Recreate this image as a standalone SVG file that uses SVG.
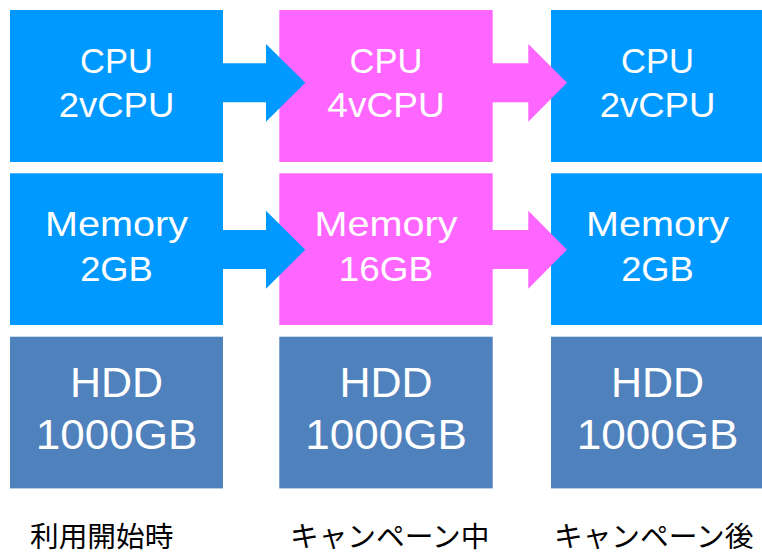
<svg xmlns="http://www.w3.org/2000/svg" width="762" height="554" viewBox="0 0 762 554">
<style>
.blue{fill:#0099FF}
.pink{fill:#FF66FF}
.hdd{fill:#4F81BD}
.t{font-family:"Liberation Sans",Arial,sans-serif;font-size:34.5px;fill:#FFFFFF;text-anchor:middle}
.th{font-family:"Liberation Sans",Arial,sans-serif;font-size:43px;fill:#FFFFFF;text-anchor:middle}
.lab{font-family:"Noto Sans CJK JP",sans-serif;font-size:28.7px;fill:#000000}
</style>
<rect width="762" height="554" fill="#FFFFFF"/>
<g id="cpu1"><rect class="blue" x="10" y="10" width="213" height="152"/><text class="t" x="116.5" y="72.7">CPU</text><text class="t" x="116.5" y="117.3" textLength="115.7" lengthAdjust="spacingAndGlyphs">2vCPU</text></g>
<g id="cpu2"><rect class="pink" x="279.3" y="10" width="213.4" height="152"/><text class="t" x="386" y="72.7">CPU</text><text class="t" x="386" y="117.3" textLength="117.4" lengthAdjust="spacingAndGlyphs">4vCPU</text></g>
<g id="cpu3"><rect class="blue" x="551" y="10" width="213" height="152"/><text class="t" x="657.5" y="72.7">CPU</text><text class="t" x="657.5" y="117.3" textLength="115.7" lengthAdjust="spacingAndGlyphs">2vCPU</text></g>
<g id="mem1"><rect class="blue" x="10" y="173.3" width="213" height="151.7"/><text class="t" x="116.5" y="235.7" textLength="143" lengthAdjust="spacingAndGlyphs">Memory</text><text class="t" x="116.5" y="280.7" textLength="72.6" lengthAdjust="spacingAndGlyphs">2GB</text></g>
<g id="mem2"><rect class="pink" x="279.3" y="173.3" width="213.4" height="151.7"/><text class="t" x="386" y="235.7" textLength="143" lengthAdjust="spacingAndGlyphs">Memory</text><text class="t" x="386" y="280.7" textLength="94.3" lengthAdjust="spacingAndGlyphs">16GB</text></g>
<g id="mem3"><rect class="blue" x="551" y="173.3" width="213" height="151.7"/><text class="t" x="657.5" y="235.7" textLength="143" lengthAdjust="spacingAndGlyphs">Memory</text><text class="t" x="657.5" y="280.7" textLength="72.6" lengthAdjust="spacingAndGlyphs">2GB</text></g>
<g id="hdd1"><rect class="hdd" x="10" y="336.7" width="213" height="151.7"/><text class="th" x="116.5" y="397.3">HDD</text><text class="th" x="116.5" y="449.3" textLength="161.7" lengthAdjust="spacingAndGlyphs">1000GB</text></g>
<g id="hdd2"><rect class="hdd" x="279.3" y="336.7" width="213.4" height="151.7"/><text class="th" x="386" y="397.3">HDD</text><text class="th" x="386" y="449.3" textLength="161.7" lengthAdjust="spacingAndGlyphs">1000GB</text></g>
<g id="hdd3"><rect class="hdd" x="551" y="336.7" width="213" height="151.7"/><text class="th" x="657.5" y="397.3">HDD</text><text class="th" x="657.5" y="449.3" textLength="161.7" lengthAdjust="spacingAndGlyphs">1000GB</text></g>
<g id="connectors">
<polygon class="blue" points="222,63.3 266,63.3 266,44 305.3,82.8 266,121.7 266,102.3 222,102.3"/>
<polygon class="pink" points="492,63.3 528.3,63.3 528.3,44 567,82.8 528.3,121.7 528.3,102.3 492,102.3"/>
<polygon class="blue" points="222,230 266,230 266,210.7 305.3,249.7 266,288.7 266,269 222,269"/>
<polygon class="pink" points="492,230 528.3,230 528.3,210.7 567,249.7 528.3,288.7 528.3,269 492,269"/>
</g>
<g id="labels">
<text class="lab" x="30" y="547">利用開始時</text>
<text class="lab" x="290" y="547">キャンペーン中</text>
<text class="lab" x="554" y="547">キャンペーン後</text>
</g>
</svg>
